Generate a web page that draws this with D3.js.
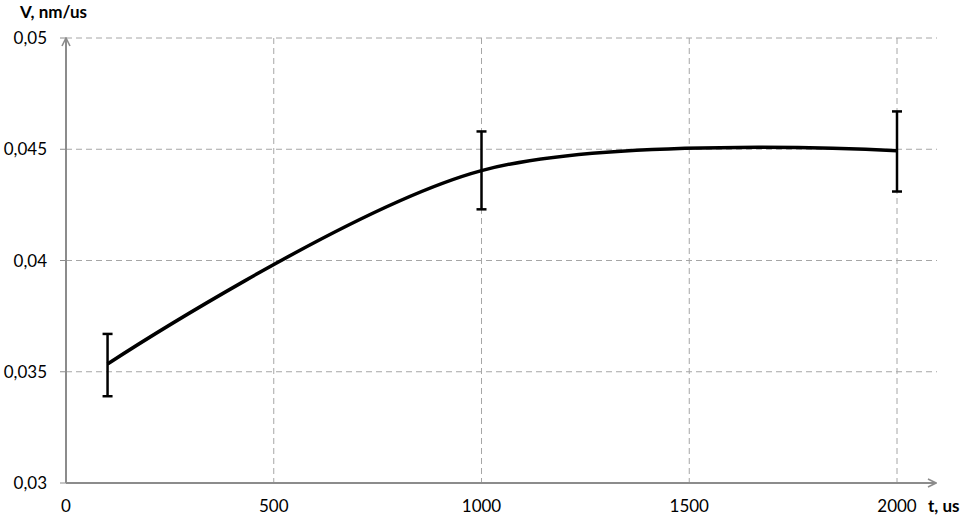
<html>
<script src="https://d3js.org/d3.v7.min.js"></script>
<style>
  body { margin: 0; background: #fff; }
  text { font-family: Lato, "Open Sans", sans-serif; fill: #000; }
</style>
<body>
<svg width="964" height="517"></svg>
<script>
// data
var times = [100, 1000, 2000];
var speeds = [0.03535, 0.04404, 0.04493];
var errLow = [0.0339, 0.0423, 0.0431];
var errHigh = [0.0367, 0.0458, 0.0467];
var xTicks = [0, 500, 1000, 1500, 2000];
var yTicks = [0.03, 0.035, 0.04, 0.045, 0.05];

var svg = d3.select("svg");
var x = d3.scaleLinear().domain([0, 2000]).range([66, 897]);
var y = d3.scaleLinear().domain([0.03, 0.05]).range([483, 38]);
var fmt = function (v) { return d3.format("~g")(v).replace(".", ","); };

// grid
svg.append("g").selectAll("line").data(yTicks.slice(1)).enter().append("line")
  .attr("x1", 66).attr("x2", 937)
  .attr("y1", function (d) { return y(d); }).attr("y2", function (d) { return y(d); })
  .attr("stroke", "#a6a6a6").attr("stroke-width", 1).attr("stroke-dasharray", "6,4");
svg.append("g").selectAll("line").data(xTicks.slice(1)).enter().append("line")
  .attr("y1", 38).attr("y2", 483)
  .attr("x1", function (d) { return x(d); }).attr("x2", function (d) { return x(d); })
  .attr("stroke", "#a6a6a6").attr("stroke-width", 1).attr("stroke-dasharray", "6,4");

// axes with arrows
svg.append("defs").append("marker").attr("id", "arr")
  .attr("viewBox", "0 0 10 10").attr("refX", 9).attr("refY", 5)
  .attr("markerWidth", 10).attr("markerHeight", 10).attr("orient", "auto")
  .attr("markerUnits", "userSpaceOnUse")
  .append("path").attr("d", "M1,1 L9,5 L1,9").attr("fill", "none")
  .attr("stroke", "#8c8c8c").attr("stroke-width", 1.6);

svg.append("line").attr("x1", 66).attr("x2", 66).attr("y1", 483).attr("y2", 38)
  .attr("stroke", "#8c8c8c").attr("stroke-width", 2).attr("marker-end", "url(#arr)");
svg.append("line").attr("x1", 66).attr("x2", 936).attr("y1", 483).attr("y2", 483)
  .attr("stroke", "#8c8c8c").attr("stroke-width", 2).attr("marker-end", "url(#arr)");

// y tick marks and labels
svg.append("g").selectAll("line").data(yTicks).enter().append("line")
  .attr("x1", 60).attr("x2", 66)
  .attr("y1", function (d) { return y(d); }).attr("y2", function (d) { return y(d); })
  .attr("stroke", "#8c8c8c").attr("stroke-width", 1);
svg.append("g").selectAll("text").data(yTicks).enter().append("text")
  .attr("x", 47).attr("y", function (d) { return y(d) + 6; })
  .attr("text-anchor", "end").style("font-size", "17px")
  .text(fmt);

svg.append("g").selectAll("text").data(xTicks).enter().append("text")
  .attr("x", function (d) { return x(d); }).attr("y", 512)
  .attr("text-anchor", "middle").style("font-size", "17px")
  .text(function (d) { return d; });

svg.append("text").attr("x", 20).attr("y", 18).style("font-size", "17px")
  .style("font-weight", "bold").text("V, nm/us");
svg.append("text").attr("x", 928).attr("y", 512).style("font-size", "17px")
  .style("font-weight", "bold").text("t, us");

// curve
var pts = times.map(function (t, i) { return [t, speeds[i]]; });
var line = d3.line().x(function (d) { return x(d[0]); }).y(function (d) { return y(d[1]); })
  .curve(d3.curveCardinal.tension(0));
svg.append("path").datum(pts).attr("d", line)
  .attr("fill", "none").attr("stroke", "#000").attr("stroke-width", 3.5);

// error bars
var eb = svg.append("g").attr("stroke", "#000").attr("stroke-width", 2.5);
times.forEach(function (t, i) {
  eb.append("line").attr("x1", x(t)).attr("x2", x(t)).attr("y1", y(errLow[i])).attr("y2", y(errHigh[i]));
  eb.append("line").attr("x1", x(t) - 5).attr("x2", x(t) + 5).attr("y1", y(errLow[i])).attr("y2", y(errLow[i]));
  eb.append("line").attr("x1", x(t) - 5).attr("x2", x(t) + 5).attr("y1", y(errHigh[i])).attr("y2", y(errHigh[i]));
});
</script>
</body>
</html>
